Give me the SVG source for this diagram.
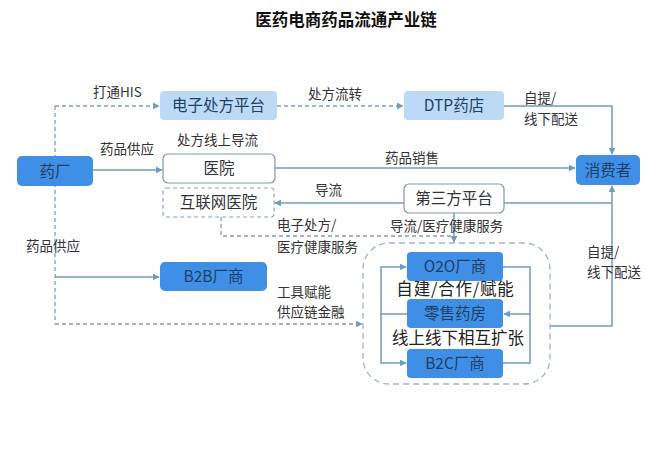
<svg xmlns="http://www.w3.org/2000/svg" width="645" height="449" viewBox="0 0 645 449">
<defs>
<style>
text{font-family:"Noto Sans CJK SC","Liberation Sans",sans-serif;fill:#333;}
.t{font-size:16.5px;font-weight:bold;fill:#111;}
.lb{font-size:13.5px;fill:#333;}
.nt{font-size:15.5px;text-anchor:middle;fill:#1f3f66;}
.big{font-size:16.5px;fill:#222;}
.blue{fill:#3f8fe6;}
.lt{fill:#bcdaf6;}
.wh{fill:#fff;stroke:#7b98b2;stroke-width:1.2;}
.dw{fill:#fff;stroke:#8aa4ba;stroke-width:1.2;stroke-dasharray:4 3;}
.ln{fill:none;stroke:#6f9cc2;stroke-width:1.5;}
.dl{fill:none;stroke:#7c9fbd;stroke-width:1.3;stroke-dasharray:4 3;}
.ct{fill:none;stroke:#9fb6c9;stroke-width:1.3;stroke-dasharray:6 4;}
</style>
<marker id="ar" viewBox="0 0 10 10" refX="9" refY="5" markerWidth="7" markerHeight="7" markerUnits="userSpaceOnUse" orient="auto">
<path d="M0,0 L10,5 L0,10 z" fill="#6f9cc2"/>
</marker>
</defs>
<rect width="645" height="449" fill="#fff"/>
<text class="t" x="346" y="26" text-anchor="middle">医药电商药品流通产业链</text>

<g id="connectors">
<path class="dl" d="M55,106 V324"/>
<path class="dl" d="M55,106 H159" marker-end="url(#ar)"/>
<path class="dl" d="M55,324 H362" marker-end="url(#ar)"/>
<path class="ln" d="M55,277 H159" marker-end="url(#ar)"/>
<path class="ln" d="M93,170 H162" marker-end="url(#ar)"/>
<path class="dl" d="M277,106 H403" marker-end="url(#ar)"/>
<path class="ln" d="M504,106 H612 V154" marker-end="url(#ar)"/>
<path class="ln" d="M275,168 H575" marker-end="url(#ar)"/>
<path class="ln" d="M404,203 H275" marker-end="url(#ar)"/>
<path class="ln" d="M504,203 H612"/>
<path class="ln" d="M550,326 H612 V186" marker-end="url(#ar)"/>
<path class="ln" d="M454,213 V242" marker-end="url(#ar)"/>
<path class="dl" d="M221,217 V236 H454"/>
<path class="ln" d="M407,314 H381 V267 H406" marker-end="url(#ar)"/>
<path class="ln" d="M381,314 V363 H406" marker-end="url(#ar)"/>
<path class="ln" d="M503,267 H530 V363 H503"/>
<path class="ln" d="M530,314 H504" marker-end="url(#ar)"/>
<rect class="ct" x="363" y="243" width="187" height="141" rx="26"/>
</g>

<g id="n-yaochang"><rect class="blue" x="17" y="156" width="76" height="30" rx="5"/><text class="nt" x="55" y="177">药厂</text></g>
<g id="n-dzcf"><rect class="lt" x="160" y="91" width="117" height="29" rx="4"/><text class="nt" x="218.5" y="111">电子处方平台</text></g>
<g id="n-dtp"><rect class="lt" x="404" y="91" width="100" height="29" rx="4"/><text class="nt" x="454" y="111">DTP药店</text></g>
<g id="n-xfz"><rect class="blue" x="576" y="155" width="64" height="30" rx="5"/><text class="nt" x="608" y="176">消费者</text></g>
<g id="n-yy"><rect class="wh" x="163" y="154" width="112" height="29" rx="5"/><text class="nt" x="219" y="174" style="fill:#333">医院</text></g>
<g id="n-hlwyy"><rect class="dw" x="163" y="188" width="111" height="29" rx="3"/><text class="nt" x="218.5" y="208" style="fill:#333">互联网医院</text></g>
<g id="n-dsf"><rect class="wh" x="404" y="184" width="100" height="29" rx="5"/><text class="nt" x="454" y="204" style="fill:#333">第三方平台</text></g>
<g id="n-b2b"><rect class="blue" x="160" y="262" width="107" height="29" rx="5"/><text class="nt" x="213.5" y="282">B2B厂商</text></g>
<g id="n-o2o"><rect class="blue" x="407" y="252" width="96" height="29" rx="4"/><text class="nt" x="455" y="272">O2O厂商</text></g>
<g id="n-lsyf"><rect class="blue" x="407" y="299" width="96" height="29" rx="4"/><text class="nt" x="455" y="319">零售药房</text></g>
<g id="n-b2c"><rect class="blue" x="407" y="349" width="96" height="29" rx="4"/><text class="nt" x="455" y="369">B2C厂商</text></g>

<g id="labels">
<text class="lb" x="93" y="97">打通HIS</text>
<text class="lb" x="308" y="99">处方流转</text>
<text class="lb" x="524" y="103">自提/</text>
<text class="lb" x="524" y="124">线下配送</text>
<text class="lb" x="100" y="154">药品供应</text>
<text class="lb" x="177" y="145">处方线上导流</text>
<text class="lb" x="385" y="163">药品销售</text>
<text class="lb" x="315" y="195">导流</text>
<text class="lb" x="277" y="230">电子处方/</text>
<text class="lb" x="277" y="252">医疗健康服务</text>
<text class="lb" x="390" y="231">导流/医疗健康服务</text>
<text class="lb" x="26" y="251">药品供应</text>
<text class="lb" x="277" y="297">工具赋能</text>
<text class="lb" x="277" y="317">供应链金融</text>
<text class="lb" x="587" y="257">自提/</text>
<text class="lb" x="587" y="277">线下配送</text>
<text class="big" x="455.5" y="295" text-anchor="middle" letter-spacing="0.8">自建/合作/赋能</text>
<text class="big" x="458" y="344" text-anchor="middle">线上线下相互扩张</text>
</g>
</svg>
